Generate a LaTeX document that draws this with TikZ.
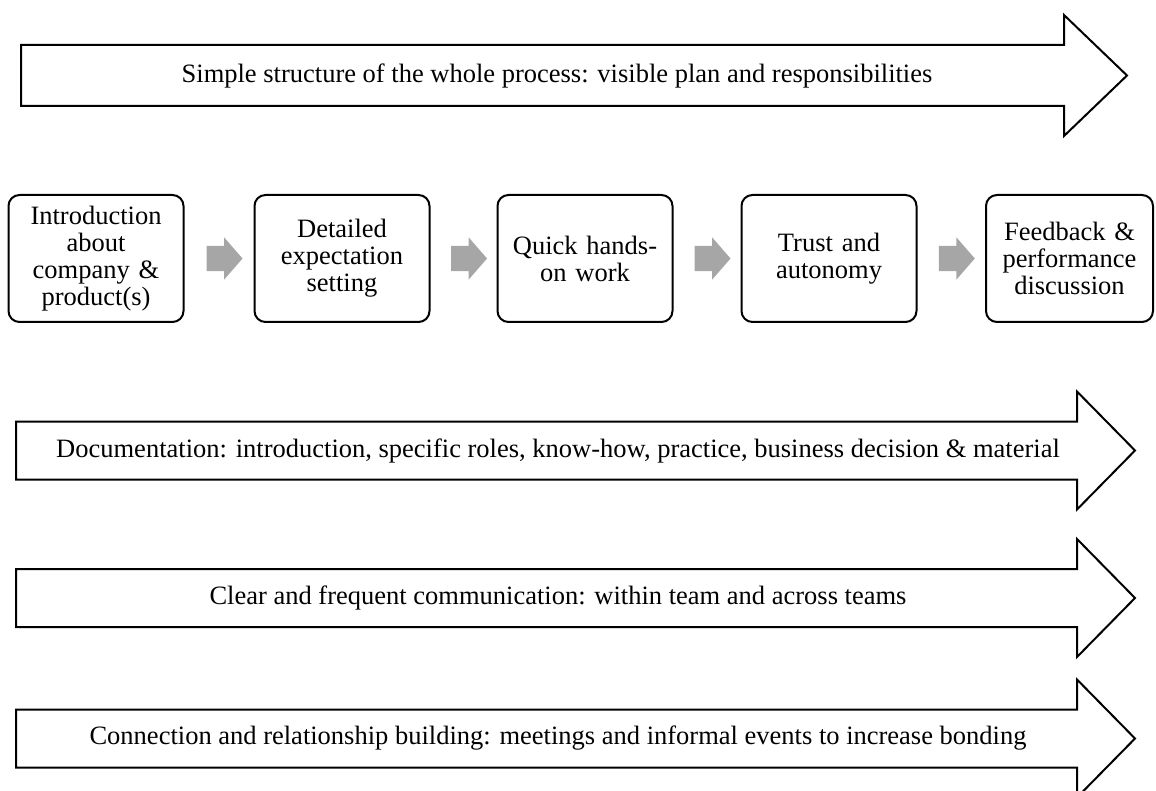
\documentclass[tikz,border=0pt]{standalone}
\usepackage{fontspec}
\setmainfont{Liberation Serif}
\usetikzlibrary{calc}
\usetikzlibrary{shapes.arrows}

\definecolor{stepgray}{RGB}{166,166,166}

\tikzset{
  stage/.style={draw, line width=2pt, rounded corners=11pt, minimum width=175pt,
    minimum height=127pt, text width=165pt, align=center, inner sep=0pt,
    font=\fontsize{26.5}{27}\selectfont},
  nextstep/.style={single arrow, fill=stepgray, draw=none, minimum height=36pt,
    inner xsep=0pt, inner ysep=12.5pt, single arrow head extend=8.5pt,
    single arrow tip angle=98},
  banner/.style={draw, line width=2pt, line join=miter},
  bannertext/.style={font=\fontsize{26.5}{30}\selectfont, inner sep=0pt}
}

\begin{document}
\begin{tikzpicture}[x=1pt, y=-1pt]
  \useasboundingbox (0,0) rectangle (1156,791);

  % top banner
  \draw[banner] (21,45) -- (1064,45) -- (1064,15) -- (1127,75.5) -- (1064,136)
    -- (1064,106) -- (21,106) -- cycle;
  \node[bannertext] (plan) at (557,75.5)
    {Simple structure of the whole process: visible plan and responsibilities};

  % stages
  \foreach \x/\name/\txt in {96/intro/{Introduction\\about\\company \&\\product(s)},
      342/expect/{Detailed\\expectation\\setting},
      585/hands/{Quick hands-\\on work},
      829/trust/{Trust and\\autonomy}}
    {\node[stage] (\name) at (\x,258.5) {\txt};}
  \node[stage, minimum width=167pt, text width=160pt] (review) at (1069.5,258.5)
    {Feedback \&\\performance\\discussion};

  \foreach \a/\b in {intro/expect, expect/hands, hands/trust, trust/review}
    {\node[nextstep] (\a-\b) at ($(\a.east)!0.5!(\b.west)$) {};}

  % lower banners
  \foreach \c/\name/\txt in {450.5/docs/{Documentation: introduction, specific roles, know-how, practice, business decision \& material},
      598/comms/{Clear and frequent communication: within team and across teams},
      738.5/bond/{Connection and relationship building: meetings and informal events to increase bonding}}
    {\draw[banner] (16,\c-29) -- (1077,\c-29) -- (1077,\c-59) -- (1135,\c)
       -- (1077,\c+59) -- (1077,\c+29) -- (16,\c+29) -- cycle;
     \node[bannertext] (\name) at (558,\c) {\txt};}
\end{tikzpicture}
\end{document}
